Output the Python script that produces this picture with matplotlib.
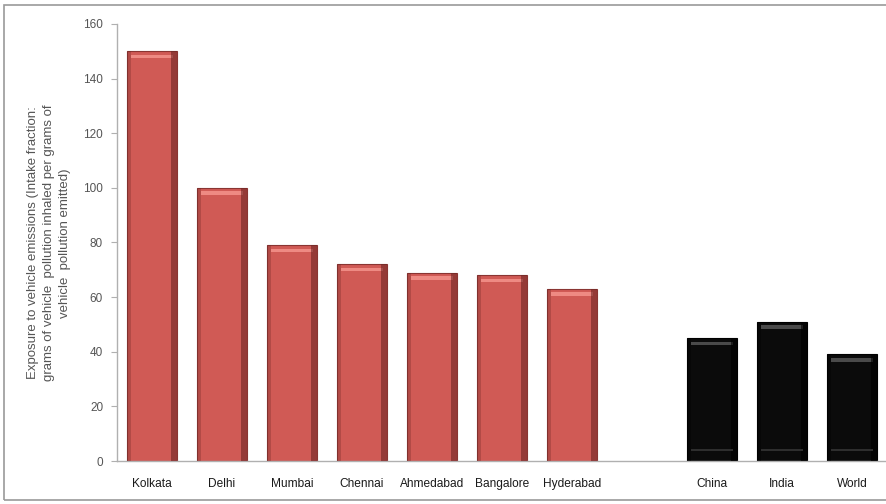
import matplotlib
matplotlib.use("Agg")
import matplotlib.pyplot as plt
from matplotlib.patches import Rectangle

# Data: intake fraction by city and region
cities = ["Kolkata", "Delhi", "Mumbai", "Chennai", "Ahmedabad", "Bangalore", "Hyderabad"]
city_values = [150, 100, 79, 72, 69, 68, 63]
regions = ["China", "India", "World"]
region_values = [45, 51, 39]
y_ticks = [0, 20, 40, 60, 80, 100, 120, 140, 160]
y_label = ("Exposure to vehicle emissions (Intake fraction:\n"
           "grams of vehicle  pollution inhaled per grams of\n"
           "vehicle  pollution emitted)")

plt.rcParams["font.family"] = ["Liberation Sans", "DejaVu Sans"]

W, H = 887, 504
fig = plt.figure(figsize=(W / 100, H / 100), dpi=100)
fig.patch.set_facecolor("white")

# outer chart frame
fig.patches.append(Rectangle((4 / W, 4 / H), 1.2, (H - 9) / H, transform=fig.transFigure,
                             fill=False, edgecolor="#9a9a9a", linewidth=1.2))

ax = fig.add_axes([117 / W, 1 - 461 / H, 1 - 117 / W, (461 - 24) / H])

city_pos = list(range(len(cities)))
region_pos = [len(cities) + 1 + i for i in range(len(regions))]
bw = 0.72


def bevel_bars(pos, vals, body, edge, light, dark):
    ax.bar(pos, vals, width=bw, color=body, edgecolor=edge, linewidth=0.8, zorder=2)
    # top highlight band
    ax.bar(pos, [1.3] * len(vals), bottom=[v - 2.6 for v in vals], width=bw * 0.82,
           color=light, linewidth=0, zorder=3)
    # right-side shading
    ax.bar([p + bw / 2 - 0.05 for p in pos], vals, width=0.09, color=dark,
           linewidth=0, zorder=3, alpha=0.6)
    # left-side shading
    ax.bar([p - bw / 2 + 0.03 for p in pos], vals, width=0.05, color=dark,
           linewidth=0, zorder=3, alpha=0.3)


bevel_bars(city_pos, city_values, "#D05A55", "#8a3532", "#EE8A83", "#6e2624")
bevel_bars(region_pos, region_values, "#0B0B0B", "#000000", "#4a4a4a", "#000000")
# faint lower band on dark bars
ax.bar(region_pos, [0.9] * len(region_values), bottom=[3.5] * len(region_values),
       width=bw * 0.82, color="#2e2e2e", linewidth=0, zorder=3)

ax.set_xlim(-0.5, region_pos[-1] + 0.5)
ax.set_ylim(0, 160)
ax.set_yticks(y_ticks)
ax.set_yticklabels([str(t) for t in y_ticks], fontsize=8.5, color="#555555")
ax.set_xticks(city_pos + region_pos)
ax.set_xticklabels(cities + regions, fontsize=8.6, color="#1a1a1a")
ax.tick_params(axis="y", length=4, width=0.8, color="#b0b0b0", pad=6)
ax.tick_params(axis="x", length=0, pad=12)

for s in ["top", "right"]:
    ax.spines[s].set_visible(False)
for s in ["left", "bottom"]:
    ax.spines[s].set_color("#b0b0b0")
    ax.spines[s].set_linewidth(1.0)

fig.text(49 / W, 1 - 243 / H, y_label, rotation=90, ha="center", va="center",
         multialignment="center", fontsize=9.5, color="#555555", linespacing=1.4)

fig.savefig("out.png", dpi=100, facecolor="white")
